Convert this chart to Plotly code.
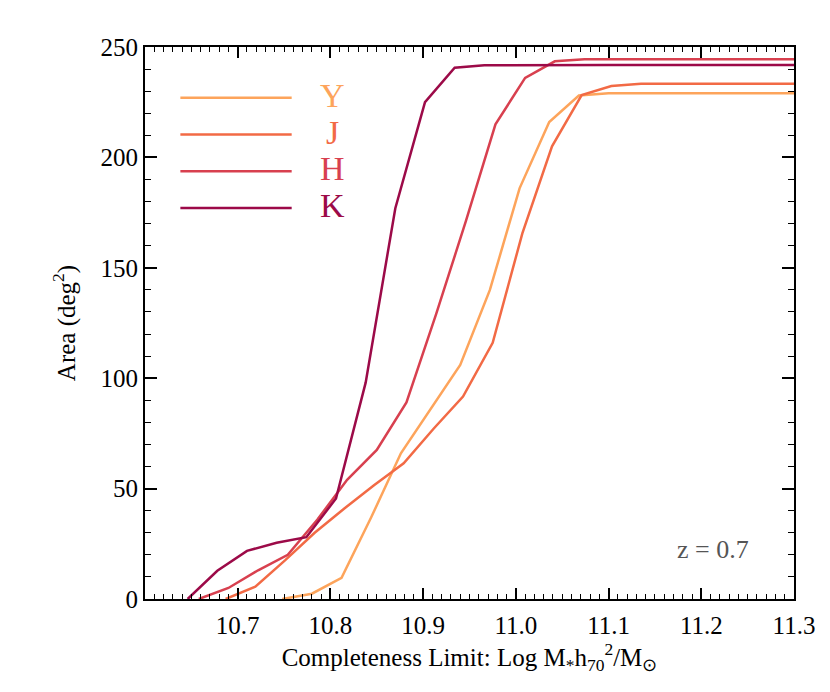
import plotly.graph_objects as go

# ---- data ----
k_x = [10.646, 10.678, 10.710, 10.742, 10.774, 10.806, 10.838, 10.870, 10.902, 10.934, 10.966, 10.998, 11.100, 11.200, 11.300]
k_y = [0.0, 12.8, 21.8, 25.5, 28.0, 45.5, 98.0, 177.0, 225.0, 240.6, 241.7, 241.8, 241.8, 241.8, 241.8]

h_x = [10.658, 10.690, 10.722, 10.754, 10.786, 10.818, 10.850, 10.882, 10.914, 10.946, 10.978, 11.010, 11.042, 11.074, 11.200, 11.300]
h_y = [0.0, 5.0, 13.0, 20.0, 36.0, 54.0, 67.5, 89.0, 129.0, 171.0, 215.0, 236.0, 243.5, 244.4, 244.5, 244.5]

j_x = [10.687, 10.719, 10.751, 10.783, 10.815, 10.847, 10.879, 10.911, 10.943, 10.975, 11.007, 11.039, 11.071, 11.103, 11.135, 11.200, 11.300]
j_y = [0.0, 5.6, 17.5, 30.0, 41.0, 51.5, 61.5, 77.0, 91.7, 116.0, 165.6, 205.0, 228.2, 232.3, 233.3, 233.3, 233.3]

y_x = [10.748, 10.780, 10.812, 10.844, 10.876, 10.908, 10.940, 10.972, 11.004, 11.036, 11.068, 11.100, 11.200, 11.300]
y_y = [0.0, 2.4, 9.6, 37.0, 66.0, 86.0, 106.0, 140.0, 186.0, 216.0, 228.0, 229.0, 229.0, 229.0]

band_names = ["Y", "J", "H", "K"]
band_colors = ["#FDA45B", "#F26A45", "#D8404F", "#9C0A48"]

x_ticks = [10.7, 10.8, 10.9, 11.0, 11.1, 11.2, 11.3]
x_ticktext = ["10.7", "10.8", "10.9", "11.0", "11.1", "11.2", "11.3"]
y_ticks = [0, 50, 100, 150, 200, 250]

FONT = "Liberation Serif"

series = [(y_x, y_y), (j_x, j_y), (h_x, h_y), (k_x, k_y)]

fig = go.Figure()
for (xs, ys), name, col in zip(series, band_names, band_colors):
    fig.add_trace(go.Scatter(x=xs, y=ys, mode="lines", name=name,
                             line=dict(color=col, width=2.5), showlegend=False))

# custom legend (long line samples + large coloured letters)
leg_y0 = 0.908
leg_dy = 0.0665
for i, (name, col) in enumerate(zip(band_names, band_colors)):
    yy = leg_y0 - i * leg_dy
    fig.add_shape(type="line", xref="paper", yref="paper",
                  x0=0.0545, x1=0.226, y0=yy, y1=yy,
                  line=dict(color=col, width=2.5))
    fig.add_annotation(xref="paper", yref="paper", x=0.2895, y=yy + 0.004,
                       text=name, showarrow=False, xanchor="center", yanchor="middle",
                       font=dict(family=FONT, size=34, color=col))

fig.add_annotation(xref="paper", yref="paper", x=0.875, y=0.09,
                   text="z = 0.7", showarrow=False, xanchor="center", yanchor="middle",
                   font=dict(family=FONT, size=26, color="#555555"))

axis_common = dict(showline=True, linecolor="black", linewidth=2, mirror="allticks",
                   ticks="inside", tickcolor="black", showgrid=False, zeroline=False,
                   tickfont=dict(family=FONT, size=25, color="black"))

fig.update_xaxes(range=[10.6, 11.3], tickvals=x_ticks, ticktext=x_ticktext,
                 ticklen=11, tickwidth=1.5, ticklabelstandoff=3,
                 minor=dict(dtick=0.01, tick0=10.6, ticklen=5, tickwidth=1.2,
                            ticks="inside", tickcolor="black", showgrid=False),
                 title=dict(text="Completeness Limit: Log M<sub>*</sub>h<sub>70</sub><sup>2</sup>/M<sub>⊙</sub>",
                            font=dict(family=FONT, size=25, color="black"), standoff=0),
                 **axis_common)
fig.update_yaxes(range=[0, 250], tickvals=y_ticks,
                 ticklen=12, tickwidth=1.5,
                 minor=dict(dtick=10, tick0=0, ticklen=6, tickwidth=1.2,
                            ticks="inside", tickcolor="black", showgrid=False),
                 title=dict(text="Area (deg<sup>2</sup>)",
                            font=dict(family=FONT, size=25, color="black"), standoff=18),
                 **axis_common)

# page body adds an 8px offset, so the figure is sized 822x684
fig.update_layout(width=822, height=684,
                  margin=dict(l=137, r=36, t=39, b=93, pad=0),
                  paper_bgcolor="white", plot_bgcolor="white",
                  showlegend=False)

fig.write_html("out.html")
